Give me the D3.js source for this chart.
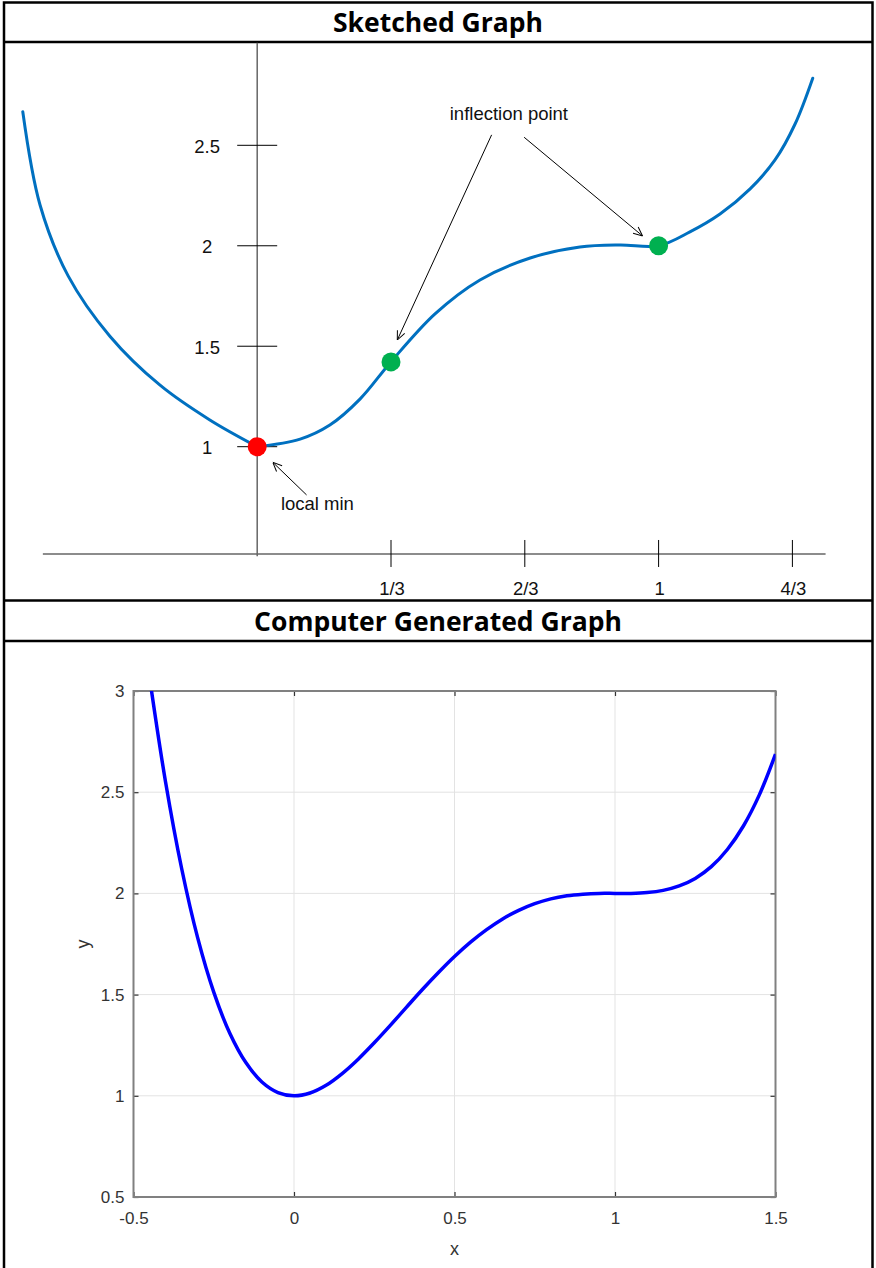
<!DOCTYPE html>
<html>
<head>
<meta charset="utf-8">
<script src="https://cdn.jsdelivr.net/npm/d3@7"></script>
<style>
body { margin:0; background:#fff; }
svg { display:block; }
</style>
</head>
<body>
<script>
// sketched graph
var sketchX = [-0.584,-0.541,-0.471,-0.367,-0.242,-0.118,0,0.107,0.181,0.256,0.333,0.443,0.555,0.680,0.804,0.904,1.0,1.078,1.153,1.228,1.290,1.340,1.384]
var sketchY = [2.667,2.203,1.850,1.550,1.306,1.133,1.0,1.038,1.108,1.237,1.422,1.661,1.830,1.939,1.994,2.004,2.0,2.069,2.158,2.283,2.427,2.606,2.834]
var sketchTickY = [1, 1.5, 2, 2.5]
var sketchTickX = [1/3, 2/3, 1, 4/3]
var sketchTickXLabels = ["1/3","2/3","1","4/3"]
var minX = [0], minY = [1]
var inflX = [1/3, 1], inflY = [1.422, 2]

// computer generated graph
var compX = [-0.45,-0.4,-0.35,-0.3,-0.25,-0.2,-0.15,-0.1,-0.05,0,0.05,0.1,0.15,0.2,0.25,0.3,0.35,0.4,0.45,0.5,0.55,0.6,0.65,0.7,0.75,0.8,0.85,0.9,0.95,1,1.05,1.1,1.15,1.2,1.25,1.3,1.35,1.4,1.45,1.5]
var compY = [3.067,2.549,2.123,1.780,1.512,1.309,1.164,1.068,1.016,1,1.014,1.052,1.110,1.181,1.262,1.348,1.437,1.525,1.609,1.688,1.759,1.821,1.874,1.916,1.949,1.973,1.988,1.996,2.000,2,2.000,2.004,2.015,2.037,2.074,2.132,2.217,2.333,2.488,2.688]
var compTickX = [-0.5, 0, 0.5, 1, 1.5]
var compTickY = [0.5, 1, 1.5, 2, 2.5, 3]

var width = 876
var height = 1268
var font = "'Liberation Sans', Arial, sans-serif"

var svg = d3.select("body")
            .append("svg")
            .attr("width",width)
            .attr("height",height)

// table frame
var frame = svg.append("g").attr("stroke","#000").attr("stroke-width",2.5)
frame.append("rect").attr("x",4).attr("y",2.5).attr("width",868.5).attr("height",1275).attr("fill","none")
;[42, 600.5, 641].forEach(function(y){
  frame.append("line").attr("x1",4).attr("x2",872.5).attr("y1",y).attr("y2",y)
})

var title = function(txt, y, target){
  var t = svg.append("text")
     .attr("x",438).attr("y",y)
     .attr("text-anchor","middle")
     .attr("dominant-baseline","central")
     .style("font-family","'Open Sans', sans-serif")
     .style("font-weight","bold")
     .style("font-size","20px")
     .text(txt)
  var w = t.node().getComputedTextLength()
  t.style("font-size",(20*target/w)+"px")
}
title("Sketched Graph", 22, 210)
title("Computer Generated Graph", 621, 368)

// ---------- sketched graph ----------
var xS = d3.scaleLinear().domain([0,1]).range([257.2,658.6])
var yS = d3.scaleLinear().domain([1,2.5]).range([446.7,145.3])

var defs = svg.append("defs")
defs.append("marker")
    .attr("id","arr")
    .attr("viewBox","0 0 10 10")
    .attr("refX",10).attr("refY",5)
    .attr("markerWidth",10).attr("markerHeight",10)
    .attr("markerUnits","userSpaceOnUse")
    .attr("orient","auto")
  .append("path")
    .attr("d","M1,1 L10,5 L1,9")
    .attr("fill","none").attr("stroke","#000").attr("stroke-width",1)

var sk = svg.append("g")

// axes
sk.append("line")
  .attr("x1",xS(0)).attr("x2",xS(0))
  .attr("y1",yS(3.01)).attr("y2",yS(0.455))
  .attr("stroke","#666").attr("stroke-width",1.5)
sk.append("line")
  .attr("x1",xS(-0.534)).attr("x2",xS(1.416))
  .attr("y1",yS(0.466)).attr("y2",yS(0.466))
  .attr("stroke","#666").attr("stroke-width",1.5)

sk.selectAll(".ytick").data(sketchTickY).enter()
  .append("line")
  .attr("x1",xS(0)-20).attr("x2",xS(0)+20)
  .attr("y1",function(d){ return yS(d) }).attr("y2",function(d){ return yS(d) })
  .attr("stroke","#000").attr("stroke-width",1)
sk.selectAll(".ylab").data(sketchTickY).enter()
  .append("text")
  .attr("x",xS(0)-50).attr("y",function(d){ return yS(d)+1 })
  .attr("text-anchor","middle").attr("dominant-baseline","central")
  .style("font-family",font).style("font-size","18.5px").attr("fill","#111")
  .text(function(d){ return d })

sk.selectAll(".xtick").data(sketchTickX).enter()
  .append("line")
  .attr("x1",function(d){ return xS(d) }).attr("x2",function(d){ return xS(d) })
  .attr("y1",yS(0.466)-14).attr("y2",yS(0.466)+13)
  .attr("stroke","#000").attr("stroke-width",1)
sk.selectAll(".xlab").data(sketchTickX).enter()
  .append("text")
  .attr("x",function(d){ return xS(d)+1 }).attr("y",yS(0.466)+35)
  .attr("text-anchor","middle").attr("dominant-baseline","central")
  .style("font-family",font).style("font-size","18.5px").attr("fill","#111")
  .text(function(d,i){ return sketchTickXLabels[i] })

// the sketch has a corner at the minimum, so draw each branch on its own
var pts = sketchX.map(function(x,i){ return [x, sketchY[i]] })
var iMin = sketchX.indexOf(minX[0])
var skLine = d3.line()
  .x(function(d){ return xS(d[0]) })
  .y(function(d){ return yS(d[1]) })
  .curve(d3.curveCatmullRom.alpha(0.5))
;[pts.slice(0,iMin+1), pts.slice(iMin)].forEach(function(branch){
  sk.append("path")
    .attr("d",skLine(branch))
    .attr("fill","none").attr("stroke","#0070c0").attr("stroke-width",3).attr("stroke-linecap","round")
})

sk.selectAll(".infl").data(inflX).enter()
  .append("circle")
  .attr("cx",function(d){ return xS(d) })
  .attr("cy",function(d,i){ return yS(inflY[i]) })
  .attr("r",9.5).attr("fill","#00b050")
sk.selectAll(".min").data(minX).enter()
  .append("circle")
  .attr("cx",function(d){ return xS(d) })
  .attr("cy",function(d,i){ return yS(minY[i]) })
  .attr("r",9.5).attr("fill","#ff0000")

// annotations
var arrows = [
  {x1:0.123, y1:0.760, x2:0.039, y2:0.922},
  {x1:0.584, y1:2.552, x2:0.349, y2:1.531},
  {x1:0.665, y1:2.540, x2:0.960, y2:2.049}
]
sk.selectAll(".arrow").data(arrows).enter()
  .append("line")
  .attr("x1",function(d){ return xS(d.x1) }).attr("y1",function(d){ return yS(d.y1) })
  .attr("x2",function(d){ return xS(d.x2) }).attr("y2",function(d){ return yS(d.y2) })
  .attr("stroke","#000").attr("stroke-width",1)
  .attr("marker-end","url(#arr)")
sk.append("text")
  .attr("x",xS(0.150)).attr("y",yS(0.718))
  .attr("text-anchor","middle").attr("dominant-baseline","central")
  .style("font-family",font).style("font-size","18.5px").attr("fill","#111")
  .text("local min")
sk.append("text")
  .attr("x",xS(0.627)).attr("y",yS(2.659))
  .attr("text-anchor","middle").attr("dominant-baseline","central")
  .style("font-family",font).style("font-size","18.5px").attr("fill","#111")
  .text("inflection point")

// ---------- computer generated graph ----------
var xC = d3.scaleLinear().domain([-0.5,1.5]).range([133.5,775.5])
var yC = d3.scaleLinear().domain([0.5,3]).range([1197,691])

var cg = svg.append("g")

// grid
cg.selectAll(".gx").data(compTickX.slice(1,-1)).enter()
  .append("line")
  .attr("x1",function(d){ return xC(d) }).attr("x2",function(d){ return xC(d) })
  .attr("y1",yC(0.5)).attr("y2",yC(3))
  .attr("stroke","#e3e3e3").attr("stroke-width",1)
cg.selectAll(".gy").data(compTickY.slice(1,-1)).enter()
  .append("line")
  .attr("y1",function(d){ return yC(d) }).attr("y2",function(d){ return yC(d) })
  .attr("x1",xC(-0.5)).attr("x2",xC(1.5))
  .attr("stroke","#e3e3e3").attr("stroke-width",1)

var fmt = function(d){ return String(d) }

var xAxis = d3.axisBottom().scale(xC).tickValues(compTickX).tickSizeInner(-5).tickSizeOuter(0).tickPadding(15).tickFormat(fmt)
var yAxis = d3.axisLeft().scale(yC).tickValues(compTickY).tickSizeInner(-5).tickSizeOuter(0).tickPadding(9).tickFormat(fmt)
var xTop = d3.axisTop().scale(xC).tickValues(compTickX).tickSizeInner(-5).tickSizeOuter(0).tickFormat("")
var yRight = d3.axisRight().scale(yC).tickValues(compTickY).tickSizeInner(-5).tickSizeOuter(0).tickFormat("")

var axes = [
  [xAxis,"translate(0,"+yC(0.5)+")"],
  [yAxis,"translate("+xC(-0.5)+",0)"],
  [xTop,"translate(0,"+yC(3)+")"],
  [yRight,"translate("+xC(1.5)+",0)"]
]
axes.forEach(function(a){
  var g = cg.append("g").attr("class","axis").attr("transform",a[1]).call(a[0])
  g.select(".domain").remove()
  g.selectAll("line").attr("stroke","#333").attr("stroke-width",1.2)
  g.selectAll("text").style("font-family",font).style("font-size","17px").attr("fill","#333")
})

cg.append("rect")
  .attr("x",xC(-0.5)).attr("y",yC(3))
  .attr("width",xC(1.5)-xC(-0.5)).attr("height",yC(0.5)-yC(3))
  .attr("fill","none").attr("stroke","#808080").attr("stroke-width",2)

defs.append("clipPath").attr("id","plotclip")
  .append("rect")
  .attr("x",xC(-0.5)).attr("y",yC(3))
  .attr("width",xC(1.5)-xC(-0.5)).attr("height",yC(0.5)-yC(3))

var cLine = d3.line()
  .x(function(d,i){ return xC(compX[i]) })
  .y(function(d,i){ return yC(compY[i]) })
  .curve(d3.curveCatmullRom)
cg.append("path")
  .attr("d",cLine(compX))
  .attr("clip-path","url(#plotclip)")
  .attr("fill","none").attr("stroke","#0000ff").attr("stroke-width",3.5)

cg.append("text")
  .attr("x",xC(0.5)).attr("y",1249)
  .attr("text-anchor","middle").attr("dominant-baseline","central")
  .style("font-family",font).style("font-size","18px").attr("fill","#333")
  .text("x")
cg.append("text")
  .attr("transform","translate(83,"+yC(1.75)+") rotate(-90)")
  .attr("text-anchor","middle").attr("dominant-baseline","central")
  .style("font-family",font).style("font-size","18px").attr("fill","#333")
  .text("y")
</script>
</body>
</html>
